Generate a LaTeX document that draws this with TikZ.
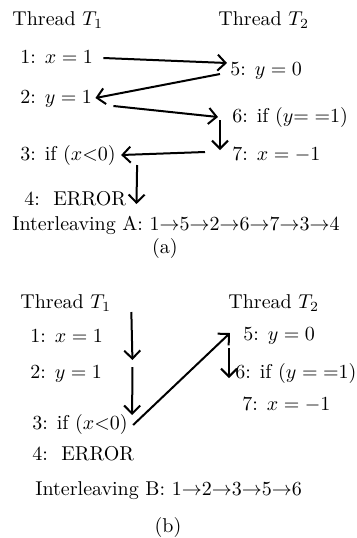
\documentclass[tikz,border=0pt]{standalone}
\usetikzlibrary{arrows.meta}

\begin{document}
\begin{tikzpicture}[
    x=0.5pt, y=-0.5pt,
    lbl/.style={anchor=west, inner sep=0pt, text height=1.5ex, text depth=.25ex},
    arr/.style={->, line width=1pt},
    >={Straight Barb[length=4pt,width=8pt]}
  ]
  \useasboundingbox (0,0) rectangle (357,538);
  % (a)
  \node[lbl] (thA1) at (12,20) {Thread $T_1$};
  \node[lbl] (thA2) at (218,20) {Thread $T_2$};
  \node[lbl] (a1) at (20,58) {1: $x=1$};
  \node[lbl] (a2) at (20,98) {2: $y=1$};
  \node[lbl] (a3) at (20,155) {3: if $(x{<}0)$};
  \node[lbl] (a4) at (24,200) {4:~~ERROR};
  \node[lbl] (a5) at (230,70) {5: $y=0$};
  \node[lbl] (a6) at (232,117) {6: if $(y{=}\;{=}1)$};
  \node[lbl] (a7) at (232,155) {7: $x=-1$};
  \node[lbl] (ilA) at (12,225) {Interleaving A: $1{\rightarrow}5{\rightarrow}2{\rightarrow}6{\rightarrow}7{\rightarrow}3{\rightarrow}4$};
  \node (capA) at (165,248) {(a)};
  \draw[arr] ([shift={(10,0)}]a1.east) -- ([shift={(-3,-7)}]a5.west);
  \draw[arr] ([shift={(-10,4)}]a5.west) -- ([shift={(3,0)}]a2.east);
  \draw[arr] ([shift={(21,8)}]a2.east) -- ([shift={(-14,0)}]a6.west);
  \draw[arr] ([shift={(-12,3)}]a6.west) -- ([shift={(-12,-5)}]a7.west);
  \draw[arr] ([shift={(-27,-3)}]a7.west) -- ([shift={(5,0)}]a3.east);
  \draw[arr] ([shift={(21,10)}]a3.east) -- ([shift={(10,4)}]a4.east);
  % (b)
  \node[lbl] (thB1) at (20,303) {Thread $T_1$};
  \node[lbl] (thB2) at (228,303) {Thread $T_2$};
  \node[lbl] (b1) at (30,337) {1: $x=1$};
  \node[lbl] (b2) at (30,373) {2: $y=1$};
  \node[lbl] (b3) at (32,424) {3: if $(x{<}0)$};
  \node[lbl] (b4) at (32,455) {4:~~ERROR};
  \node[lbl] (b5) at (243,335) {5: $y=0$};
  \node[lbl] (b6) at (235,373) {6: if $(y\;{=}\;{=}1)$};
  \node[lbl] (b7) at (242,405) {7: $x=-1$};
  \node[lbl] (ilB) at (35,490) {Interleaving B: $1{\rightarrow}2{\rightarrow}3{\rightarrow}5{\rightarrow}6$};
  \node (capB) at (168,527) {(b)};
  \draw[arr] ([shift={(28,-25)}]b1.east) -- ([shift={(30,-13)}]b2.east);
  \draw[arr] ([shift={(30,-6)}]b2.east) -- ([shift={(4,-9)}]b3.east);
  \draw[arr] ([shift={(5,1)}]b3.east) -- ([shift={(-13,-2)}]b5.west);
  \draw[arr] ([shift={(-14,13)}]b5.west) -- ([shift={(-6,5)}]b6.west);
\end{tikzpicture}
\end{document}
